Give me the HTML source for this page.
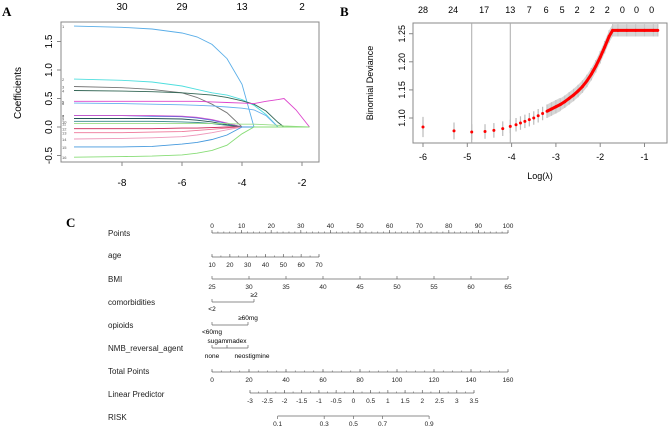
<!DOCTYPE html>
<html><head><meta charset="utf-8"><style>
html,body{margin:0;padding:0;background:#fff}
svg{display:block;font-family:"Liberation Sans",Arial,sans-serif}
</style></head><body>
<svg id="s" width="669" height="428" viewBox="0 0 669 428"></svg>
<script>
// ---------- Panel A data ----------
const aLam = [-9.6,-8,-7,-6,-5.5,-5,-4.5,-4,-3.6,-3.2,-2.8,-2.6,-2.2,-1.75];
const aSeriesNames = ['s1','s2','s3','s4','s5','s6','s7','s8','s9','s10','s11','s12','s13','s14','s15','s16'];
const aColors = ['#5aaee8','#4fdede','#777777','#336655','#dd44cc','#66b0ee','#3a6ad8','#cc55cc','#225555','#338888','#99dd88','#cc2255','#ee7799','#ee99bb','#4499dd','#88dd77'];
const aValues = [
 [1.77,1.75,1.72,1.65,1.58,1.45,1.2,0.75,0,0,0,0,0,0],
 [0.84,0.82,0.79,0.72,0.66,0.6,0.56,0.48,0.38,0.22,0,0,0,0],
 [0.71,0.69,0.66,0.6,0.52,0.4,0.25,0,0,0,0,0,0,0],
 [0.64,0.63,0.62,0.6,0.58,0.56,0.52,0.46,0.4,0.28,0.08,0,0,0],
 [0.45,0.45,0.45,0.45,0.45,0.44,0.43,0.42,0.41,0.45,0.48,0.5,0.3,0],
 [0.42,0.41,0.4,0.39,0.38,0.37,0.35,0.33,0.3,0.2,0,0,0,0],
 [0.2,0.2,0.19,0.18,0.16,0.12,0.06,0,0,0,0,0,0,0],
 [0.2,0.2,0.2,0.19,0.17,0.13,0.07,0,0,0,0,0,0,0],
 [0.15,0.15,0.15,0.14,0.12,0.09,0.04,0,0,0,0,0,0,0],
 [0.1,0.1,0.1,0.09,0.08,0.06,0.03,0,0,0,0,0,0,0],
 [0.06,0.06,0.06,0.06,0.06,0.06,0.06,0.05,0.05,0.04,0.03,0.02,0.01,0],
 [-0.03,-0.03,-0.03,-0.02,-0.02,-0.01,0,0,0,0,0,0,0,0],
 [-0.1,-0.1,-0.09,-0.08,-0.06,-0.04,-0.02,0,0,0,0,0,0,0],
 [-0.21,-0.2,-0.19,-0.17,-0.14,-0.1,-0.05,0,0,0,0,0,0,0],
 [-0.35,-0.35,-0.34,-0.3,-0.27,-0.22,-0.14,0,0,0,0,0,0,0],
 [-0.53,-0.52,-0.51,-0.49,-0.46,-0.41,-0.32,-0.12,0,0,0,0,0,0]
];
const aXTicks = [-8,-6,-4,-2];
const aYTicks = [-0.5,0,0.5,1,1.5];
const aTopLabels = ['30','29','13','2'];

// ---------- Panel B data ----------
const bLam = [-6,-5.3,-4.9,-4.6,-4.4,-4.2,-4.03,-3.9,-3.8,-3.7,-3.6,-3.5,-3.4,-3.3,-3.2,-3.1,-3,-2.9,-2.8,-2.7,-2.6,-2.5,-2.4,-2.3,-2.2,-2.1,-2,-1.9,-1.8,-1.72,-1.6,-1.4,-1.2,-1,-0.8,-0.7];
const bDev = [1.084,1.077,1.075,1.076,1.078,1.081,1.085,1.088,1.091,1.094,1.097,1.100,1.104,1.108,1.112,1.116,1.120,1.124,1.129,1.135,1.141,1.148,1.156,1.166,1.178,1.192,1.208,1.226,1.245,1.256,1.256,1.256,1.256,1.256,1.256,1.256];
const bErr = [0.018,0.015,0.014,0.013,0.013,0.013,0.012,0.012,0.012,0.012,0.012,0.012,0.012,0.012,0.012,0.012,0.012,0.011,0.011,0.011,0.011,0.011,0.011,0.011,0.011,0.011,0.011,0.011,0.011,0.011,0.011,0.011,0.011,0.011,0.011,0.011];
const bXTicks = [-6,-5,-4,-3,-2,-1];
const bYTicks = [1.10,1.15,1.20,1.25];
const bTopLam = [-6,-5.32,-4.62,-4.03,-3.6,-3.22,-2.86,-2.52,-2.18,-1.84,-1.5,-1.18,-0.84];
const bTopLabels = ['28','24','17','13','7','6','5','2','2','2','0','0','0'];
const bVLines = [-4.9,-4.03];

// ---------- Panel C data ----------
const pointsTicks = [0,10,20,30,40,50,60,70,80,90,100];
const ageTicks = [10,20,30,40,50,60,70];
const bmiTicks = [25,30,35,40,45,50,55,60,65];
const totalTicks = [0,20,40,60,80,100,120,140,160];
const lpTicks = [-3,-2.5,-2,-1.5,-1,-0.5,0,0.5,1,1.5,2,2.5,3,3.5];
const riskTicks = [0.1,0.3,0.5,0.7,0.9];

const NS='http://www.w3.org/2000/svg';
const svg=document.getElementById('s');
function el(tag,attrs,parent,text){const e=document.createElementNS(NS,tag);for(const k in attrs)e.setAttribute(k,attrs[k]);if(text!==undefined)e.textContent=text;(parent||svg).appendChild(e);return e;}
function line(x1,y1,x2,y2,stroke,w,p){return el('line',{x1,y1,x2,y2,stroke,'stroke-width':w||1},p);}

// ===== Panel A =====
const ax=v=>242+(v+4)*30, ay=v=>127-v*57;
const gA=el('g',{});


let t=el('text',{x:2,y:16,'font-size':13,'font-weight':'bold','font-family':'Liberation Serif,serif'},gA,'A');

el('rect',{x:61,y:22,width:258,height:140,fill:'none',stroke:'#888','stroke-width':1},gA);
aValues.forEach((vals,i)=>{
  const d=vals.map((v,j)=>(j?'L':'M')+ax(aLam[j]).toFixed(1)+','+ay(v).toFixed(1)).join(' ');
  const p=el('path',{d,fill:'none',stroke:aColors[i],'stroke-width':0.9},gA);
  
  
  el('text',{x:62,y:ay(vals[0])+2,'font-size':4,fill:'#555'},gA,String(i+1));
});
aXTicks.forEach((v,i)=>{
  line(ax(v),162,ax(v),166,'#888',1,gA);
  const tx=el('text',{x:ax(v),y:186,'font-size':10,'text-anchor':'middle'},gA,String(v));
  
  
  const tt=el('text',{x:ax(v),y:10,'font-size':10,'text-anchor':'middle'},gA,aTopLabels[i]);
  
  
});
aYTicks.forEach(v=>{
  line(57,ay(v),61,ay(v),'#888',1,gA);
  const y=ay(v);
  const tx=el('text',{x:0,y:0,'font-size':10,'text-anchor':'middle',transform:`translate(52,${y}) rotate(-90)`},gA,v.toFixed(1));
  
  
});
t=el('text',{x:0,y:0,'font-size':10,'text-anchor':'middle',transform:'translate(21,93) rotate(-90)'},gA,'Coefficients');


// ===== Panel B =====
const bx=v=>423+(v+6)*44.3, by=v=>118-(v-1.10)*562;
const gB=el('g',{});


t=el('text',{x:340,y:16,'font-size':13,'font-weight':'bold','font-family':'Liberation Serif,serif'},gB,'B');

el('rect',{x:413,y:23,width:254,height:120,fill:'none',stroke:'#888','stroke-width':1},gB);
bVLines.forEach(v=>{const l=line(bx(v),23,bx(v),143,'#aaa',1,gB);});
bLam.forEach((v,i)=>{
  const l=line(bx(v),by(bDev[i]+bErr[i]),bx(v),by(bDev[i]-bErr[i]),'#bbb',1.2,gB);
  
  
});
for(let k=0;k<bLam.length-1;k++){
  if(bLam[k]>=-3.2){
    const x1=bx(bLam[k]),x2=bx(bLam[k+1]);
    const y1=by(bDev[k]),y2=by(bDev[k+1]);
    const e1=bErr[k]*562;
    el('path',{d:`M${x1},${y1-e1} L${x2},${y2-e1} L${x2},${y2+e1} L${x1},${y1+e1} Z`,fill:'#ccc',opacity:0.8},gB);
  }
}
const flat=el('path',{d:'',fill:'none',stroke:'red','stroke-width':3},gB);


flat.setAttribute('d',bLam.filter(v=>v>=-3.2).map((v,j)=>{const i=bLam.indexOf(v);return (j?'L':'M')+bx(v)+','+by(bDev[i]);}).join(' '));
bLam.forEach((v,i)=>{
  const c=el('circle',{cx:bx(v),cy:by(bDev[i]),r:1.5,fill:'red'},gB);
  
  
});
bXTicks.forEach(v=>{
  line(bx(v),143,bx(v),147,'#888',1,gB);
  const tx=el('text',{x:bx(v),y:160,'font-size':9,'text-anchor':'middle'},gB,String(v));
  
  
});
bTopLam.forEach((v,i)=>{
  const tt=el('text',{x:bx(v),y:13,'font-size':9,'text-anchor':'middle'},gB,bTopLabels[i]);
  
  
});
bYTicks.forEach(v=>{
  line(409,by(v),413,by(v),'#888',1,gB);
  const tx=el('text',{x:0,y:0,'font-size':9,'text-anchor':'middle',transform:`translate(405,${by(v)}) rotate(-90)`},gB,v.toFixed(2));
  
  
});
t=el('text',{x:0,y:0,'font-size':9,'text-anchor':'middle',transform:'translate(373,83) rotate(-90)'},gB,'Binomial Deviance');

t=el('text',{x:540,y:179,'font-size':9,'text-anchor':'middle'},gB,'Log(λ)');


// ===== Panel C nomogram =====
const gC=el('g',{});


t=el('text',{x:66,y:227,'font-size':13,'font-weight':'bold','font-family':'Liberation Serif,serif'},gC,'C');

const px=p=>212+p*2.96;
function rowLabel(txt,y,name){const e=el('text',{x:108,y:y,'font-size':8,fill:'#222'},gC,txt);}
function scale(ticks,xf,y,tickUp,labelUp,minorStep,name){
  const g=el('g',{},gC);
  
  
  const lo=ticks[0],hi=ticks[ticks.length-1];
  const dir=tickUp?-1:1;
  line(xf(lo),y,xf(hi),y,'#666',0.7,g);
  if(minorStep){for(let v=lo;v<=hi+1e-9;v+=minorStep)line(xf(v),y,xf(v),y+dir*1.5,'#666',0.6,g);}
  ticks.forEach(v=>{
    line(xf(v),y,xf(v),y+dir*3,'#666',0.7,g);
    el('text',{x:xf(v),y:labelUp?y-5:y+10,'font-size':6.5,'text-anchor':'middle',fill:'#222'},g,String(v));
  });
}
rowLabel('Points',236,'points-label');
scale(pointsTicks,px,233,true,true,2,'points-scale');
rowLabel('age',258,'age-label');
scale(ageTicks,v=>212+(v-10)*(319-212)/60,257,true,false,5,'age-scale');
rowLabel('BMI',282,'bmi-label');
scale(bmiTicks,v=>212+(v-25)*(296/40),279,true,false,0,'bmi-scale');
rowLabel('comorbidities',305,'comorbidities-label');
{const g=el('g',{},gC);
 line(212,302,254,302,'#666',0.7,g);line(212,302,212,299,'#666',0.7,g);line(254,302,254,299,'#666',0.7,g);
 el('text',{x:254,y:297,'font-size':6.5,'text-anchor':'middle'},g,'≥2');el('text',{x:212,y:311,'font-size':6.5,'text-anchor':'middle'},g,'<2');}
rowLabel('opioids',328,'opioids-label');
{const g=el('g',{},gC);
 line(212,325,248,325,'#666',0.7,g);line(212,325,212,322,'#666',0.7,g);line(248,325,248,322,'#666',0.7,g);
 el('text',{x:248,y:320,'font-size':6.5,'text-anchor':'middle'},g,'≥60mg');el('text',{x:212,y:334,'font-size':6.5,'text-anchor':'middle'},g,'<60mg');}
rowLabel('NMB_reversal_agent',351,'nmb-reversal-agent-label');
{const g=el('g',{},gC);
 line(212,348,248,348,'#666',0.7,g);line(212,348,212,345,'#666',0.7,g);line(248,348,248,345,'#666',0.7,g);line(227,348,227,345,'#666',0.7,g);
 el('text',{x:227,y:343,'font-size':6.5,'text-anchor':'middle'},g,'sugammadex');el('text',{x:212,y:358,'font-size':6.5,'text-anchor':'middle'},g,'none');el('text',{x:252,y:358,'font-size':6.5,'text-anchor':'middle'},g,'neostigmine');}
rowLabel('Total Points',374,'total-points-label');
scale(totalTicks,v=>212+v*296/160,372,true,false,5,'total-points-scale');
rowLabel('Linear Predictor',397,'linear-predictor-label');
const lx=v=>250+(v+3)*(224/6.5);
scale(lpTicks,lx,393,true,false,0.25,'linear-predictor-scale');
rowLabel('RISK',420,'risk-label');
scale(riskTicks,p=>lx(Math.log(p/(1-p))),416,false,false,0,'risk-scale');
</script>
</body></html>
